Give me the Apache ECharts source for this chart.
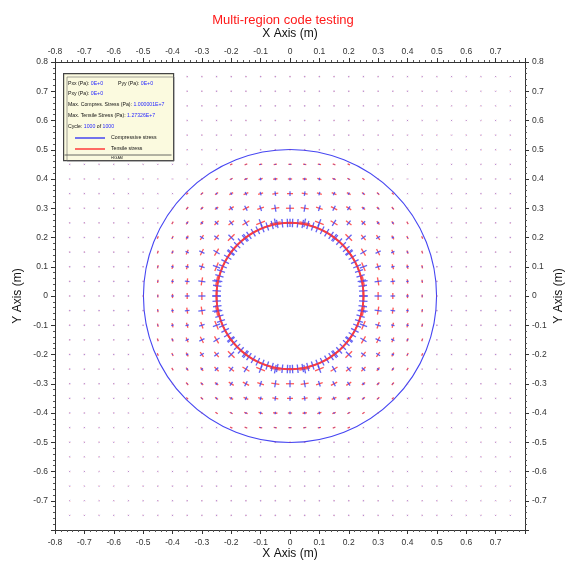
<!DOCTYPE html>
<html>
<head>
<meta charset="utf-8">
<script src="https://cdn.jsdelivr.net/npm/echarts@6/dist/echarts.min.js"></script>
<style>
  html, body { margin: 0; padding: 0; background: #fff; }
  #chart { width: 566px; height: 564px; }
</style>
</head>
<body>
<div id="chart"></div>
<script>
// Sampling grid of the stress field (m)
const gridNodes = [-0.75, -0.7, -0.65, -0.6, -0.55, -0.5, -0.45, -0.4, -0.35, -0.3, -0.25, -0.2, -0.15, -0.1, -0.05,
  0, 0.05, 0.1, 0.15, 0.2, 0.25, 0.3, 0.35, 0.4, 0.45, 0.5, 0.55, 0.6, 0.65, 0.7, 0.75];

// Region boundaries (m)
const innerRadius = 0.25;
const outerRadius = 0.5;

// Principal stress magnitudes (MPa) across the ring, by radius
const profileRadius = [0.25, 0.275, 0.30, 0.325, 0.35, 0.375, 0.40, 0.425, 0.45, 0.475, 0.50];
const compressive  = [10.0, 9.2, 8.4, 6.8, 5.5, 4.2, 3.0, 2.0, 1.2, 0.6, 0.3];
const tensile      = [12.7, 11.0, 9.5, 8.2, 7.0, 6.0, 5.0, 4.3, 3.8, 3.3, 3.0];

// Outer medium: residual stresses (MPa)
const outerCompressive = 2.0;
const outerTensile = 2.0;

// Boundary nodes on the cavity wall
const boundaryNodeCount = 90;
const boundaryCompressive = 10.0;
const boundaryTensile = 12.7;

// Axis ticks
const axisMin = -0.8, axisMax = 0.8, axisStep = 0.1;

// Legend text
const legendRows = [
  ['Pxx (Pa): ', '0E+0'],
  ['Pxy (Pa): ', '0E+0'],
  ['Max. Compres. Stress (Pa): ', '1.000001E+7'],
  ['Max. Tensile Stress (Pa): ', '1.27326E+7']
];

const BLUE = '#4646f2';
const RED = '#ff3a3a';
const STRESS_SCALE = 0.85 / 293; // full cross-arm length in data units per MPa

function nearestProfileIndex(r) {
  let best = 0;
  for (let i = 1; i < profileRadius.length; i++) {
    if (Math.abs(profileRadius[i] - r) < Math.abs(profileRadius[best] - r)) best = i;
  }
  return best;
}

// [x, y, compressive, tensile, region]  region: 0 ring, 1 outer, 2 boundary
const crossData = [];
gridNodes.forEach(y => {
  gridNodes.forEach(x => {
    const r = Math.hypot(x, y);
    if (r < innerRadius - 1e-9) return;
    if (r < outerRadius - 1e-9) {
      const i = nearestProfileIndex(r);
      crossData.push([x, y, compressive[i], tensile[i], 0]);
    } else {
      crossData.push([x, y, outerCompressive, outerTensile, 1]);
    }
  });
});
for (let k = 0; k < boundaryNodeCount; k++) {
  const a = 2 * Math.PI * k / boundaryNodeCount;
  crossData.push([innerRadius * Math.cos(a), innerRadius * Math.sin(a), boundaryCompressive, boundaryTensile, 2]);
}

function renderCross(params, api) {
  const x = api.value(0), y = api.value(1);
  const c = api.value(2), t = api.value(3), region = api.value(4);
  const r = Math.hypot(x, y) || 1;
  const ux = x / r, uy = y / r;          // radial direction
  const tx = -uy, ty = ux;               // tangential direction
  const hc = c * STRESS_SCALE / 2, ht = t * STRESS_SCALE / 2;
  const c1 = api.coord([x - ux * hc, y - uy * hc]);
  const c2 = api.coord([x + ux * hc, y + uy * hc]);
  const t1 = api.coord([x - tx * ht, y - ty * ht]);
  const t2 = api.coord([x + tx * ht, y + ty * ht]);
  const op = region === 1 ? 0.4 : 0.85;
  const w = region === 1 ? 1 : 1.3;
  return {
    type: 'group',
    children: [
      { type: 'line', shape: { x1: t1[0], y1: t1[1], x2: t2[0], y2: t2[1] },
        style: { stroke: RED, lineWidth: region === 2 ? 1.8 : w, opacity: op } },
      { type: 'line', shape: { x1: c1[0], y1: c1[1], x2: c2[0], y2: c2[1] },
        style: { stroke: BLUE, lineWidth: w, opacity: op } }
    ]
  };
}

function renderCircle(params, api) {
  const c = api.coord([api.value(0), api.value(1)]);
  const s = api.size([api.value(2), api.value(2)]);
  return {
    type: 'circle',
    shape: { cx: c[0], cy: c[1], r: (s[0] + s[1]) / 2 },
    style: { fill: 'none', stroke: BLUE, lineWidth: api.value(3) }
  };
}

const fmt = (hide) => (v) => {
  const n = +(+v).toFixed(1);
  return Math.abs(n - hide) < 1e-6 ? '' : String(n);
};

const axisCommon = {
  type: 'value', min: axisMin, max: axisMax, interval: axisStep,
  axisLine: { show: true, onZero: false, lineStyle: { color: '#333', width: 1 } },
  axisTick: { show: true, inside: false, length: 4, lineStyle: { color: '#333' } },
  minorTick: { show: true, splitNumber: 5, length: 2, lineStyle: { color: '#555' } },
  splitLine: { show: false },
  nameLocation: 'middle',
  nameMoveOverlap: false,
  nameTextStyle: { fontFamily: 'Liberation Sans', fontSize: 12, color: '#111' }
};
const labelStyle = { fontFamily: 'Liberation Sans', fontSize: 8.5, color: '#333' };

const legendX = 63, legendY = 73, legendW = 110, legendH = 87;
const fs = 5.2;
const rich = {
  k: { fontFamily: 'Liberation Sans', fontSize: fs, fill: '#111', color: '#111' },
  v: { fontFamily: 'Liberation Sans', fontSize: fs, fill: '#2a2aff', color: '#2a2aff' }
};
function richText(left, top, str) {
  return { type: 'text', left: left, top: top, z: 20,
    style: { text: str, rich: rich, font: fs + 'px "Liberation Sans"', fill: '#111' } };
}

const legendGraphics = [
  { type: 'rect', left: legendX, top: legendY, z: 10,
    shape: { width: legendW, height: legendH },
    style: { fill: '#fbfadf', stroke: '#444', lineWidth: 1.2 } },
  { type: 'rect', left: legendX + 1.5, top: legendY + 1.5, z: 11,
    shape: { width: legendW - 3, height: legendH - 3 },
    style: { fill: 'none', stroke: '#666', lineWidth: 0.6 } },
  richText(legendX + 5, legendY + 8, '{k|' + legendRows[0][0] + '}{v|' + legendRows[0][1] + '}'),
  richText(legendX + 55, legendY + 8, '{k|Pyy (Pa): }{v|0E+0}'),
  richText(legendX + 5, legendY + 18, '{k|' + legendRows[1][0] + '}{v|' + legendRows[1][1] + '}'),
  richText(legendX + 5, legendY + 29, '{k|' + legendRows[2][0] + '}{v|' + legendRows[2][1] + '}'),
  richText(legendX + 5, legendY + 40, '{k|' + legendRows[3][0] + '}{v|' + legendRows[3][1] + '}'),
  richText(legendX + 5, legendY + 51, '{k|Cycle: }{v|1000}{k| of }{v|1000}'),
  { type: 'line', z: 20, shape: { x1: legendX + 12, y1: legendY + 65, x2: legendX + 42, y2: legendY + 65 },
    style: { stroke: BLUE, lineWidth: 1.5 } },
  richText(legendX + 48, legendY + 62.5, '{k|Compressive stress}'),
  { type: 'line', z: 20, shape: { x1: legendX + 12, y1: legendY + 76, x2: legendX + 42, y2: legendY + 76 },
    style: { stroke: RED, lineWidth: 1.5 } },
  richText(legendX + 48, legendY + 73.5, '{k|Tensile stress}'),
  { type: 'line', z: 20, shape: { x1: legendX + 1.5, y1: legendY + 82, x2: legendX + legendW - 1.5, y2: legendY + 82 },
    style: { stroke: '#444', lineWidth: 0.8 } },
  { type: 'text', left: legendX + legendW / 2 - 7, top: legendY + 82.5, z: 20,
    style: { text: 'HIGAM', font: '3.6px "Liberation Sans"', fill: '#222' } }
];

const chart = echarts.init(document.getElementById('chart'), null, { renderer: 'canvas' });
chart.setOption({
  backgroundColor: '#fff',
  animation: false,
  title: {
    text: 'Multi-region code testing', left: 'center', top: 9,
    textStyle: { fontFamily: 'Liberation Sans', fontSize: 13, fontWeight: 'normal', color: '#ff1a1a' }
  },
  grid: { left: 55, right: 41, top: 62, bottom: 34, containLabel: false, outerBoundsMode: 'none' },
  xAxis: [
    Object.assign({}, axisCommon, { position: 'bottom', name: 'X Axis (m)', nameGap: 18,
      axisLabel: Object.assign({ margin: 8, formatter: fmt(0.8) }, labelStyle) }),
    Object.assign({}, axisCommon, { position: 'top', name: 'X Axis (m)', nameGap: 22,
      axisLabel: Object.assign({ margin: 6, formatter: fmt(0.8) }, labelStyle) })
  ],
  yAxis: [
    Object.assign({}, axisCommon, { position: 'left', name: 'Y Axis (m)', nameGap: 31,
      axisLabel: Object.assign({ margin: 7, formatter: fmt(-0.8) }, labelStyle) }),
    Object.assign({}, axisCommon, { position: 'right', name: 'Y Axis (m)', nameGap: 28,
      axisLabel: Object.assign({ margin: 7, formatter: fmt(-0.8) }, labelStyle) })
  ],
  graphic: legendGraphics,
  series: [
    {
      type: 'custom', name: 'Region boundaries', xAxisIndex: 0, yAxisIndex: 0,
      renderItem: renderCircle, silent: true, clip: true,
      data: [[0, 0, outerRadius, 1.1], [0, 0, innerRadius, 0.8]]
    },
    {
      type: 'custom', name: 'Principal stresses', xAxisIndex: 0, yAxisIndex: 0,
      renderItem: renderCross, silent: true, clip: true,
      data: crossData
    }
  ]
});
</script>
</body>
</html>
